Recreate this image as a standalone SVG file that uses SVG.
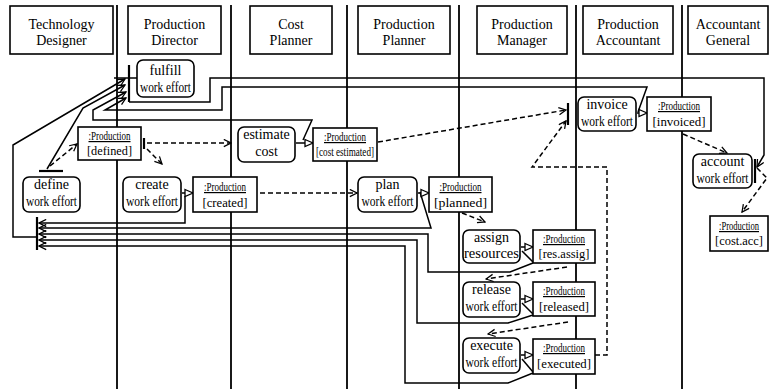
<svg xmlns="http://www.w3.org/2000/svg" width="771" height="389" viewBox="0 0 771 389" font-family="'Liberation Serif', 'Times New Roman', serif">
  <style>
    text { font-family: 'Liberation Serif', 'Times New Roman', serif; fill: #000; }
    .hdr { font-size: 14px; text-anchor: middle; }
    .act { font-size: 14px; text-anchor: middle; }
    .obj { font-size: 13px; text-anchor: middle; }
    .cls { font-size: 12px; text-anchor: middle; text-decoration: underline; }
    .box { fill: #fff; stroke: #000; stroke-width: 1.6; }
    .lane { stroke: #000; stroke-width: 1.8; fill: none; }
    .flow { stroke: #000; stroke-width: 1.5; fill: none; }
    .dash { stroke: #000; stroke-width: 1.5; fill: none; stroke-dasharray: 5 3; }
    .bar { stroke: #000; stroke-width: 2.2; fill: none; }
  </style>
  <defs>
    <marker id="open" viewBox="0 0 10 10" refX="9" refY="5" markerWidth="9" markerHeight="9" markerUnits="userSpaceOnUse" orient="auto">
      <path d="M1,1 L9,5 L1,9" fill="none" stroke="#000" stroke-width="1.4"/>
    </marker>
    <marker id="tri" viewBox="0 0 10 10" refX="9" refY="5" markerWidth="10" markerHeight="10" markerUnits="userSpaceOnUse" orient="auto">
      <path d="M1,1.5 L9,5 L1,8.5 Z" fill="#fff" stroke="#000" stroke-width="1.3"/>
    </marker>
  </defs>

  <rect width="771" height="389" fill="#fff"/>

  <!-- swimlane separators -->
  <g id="lanes">
    <line class="lane" x1="117" y1="5" x2="117" y2="389"/>
    <line class="lane" x1="231" y1="5" x2="231" y2="389"/>
    <line class="lane" x1="347" y1="5" x2="347" y2="389"/>
    <line class="lane" x1="459" y1="5" x2="459" y2="389"/>
    <line class="lane" x1="576" y1="5" x2="576" y2="389"/>
    <line class="lane" x1="682" y1="5" x2="682" y2="389"/>
  </g>

  <!-- lane headers -->
  <g id="headers">
    <g id="hdr-technology-designer">
      <rect class="box" x="10" y="6" width="103" height="48"/>
      <text class="hdr" x="61.5" y="29">Technology</text>
      <text class="hdr" x="61.5" y="45">Designer</text>
    </g>
    <g id="hdr-production-director">
      <rect class="box" x="128" y="6" width="93" height="48"/>
      <text class="hdr" x="174.5" y="29">Production</text>
      <text class="hdr" x="174.5" y="45">Director</text>
    </g>
    <g id="hdr-cost-planner">
      <rect class="box" x="250" y="6" width="82" height="48"/>
      <text class="hdr" x="291" y="29">Cost</text>
      <text class="hdr" x="291" y="45">Planner</text>
    </g>
    <g id="hdr-production-planner">
      <rect class="box" x="358" y="6" width="92" height="48"/>
      <text class="hdr" x="404" y="29">Production</text>
      <text class="hdr" x="404" y="45">Planner</text>
    </g>
    <g id="hdr-production-manager">
      <rect class="box" x="477" y="6" width="90" height="48"/>
      <text class="hdr" x="522" y="29">Production</text>
      <text class="hdr" x="522" y="45">Manager</text>
    </g>
    <g id="hdr-production-accountant">
      <rect class="box" x="583" y="6" width="90" height="48"/>
      <text class="hdr" x="628" y="29">Production</text>
      <text class="hdr" x="628" y="45">Accountant</text>
    </g>
    <g id="hdr-accountant-general">
      <rect class="box" x="688" y="6" width="80" height="48"/>
      <text class="hdr" x="728" y="29">Accountant</text>
      <text class="hdr" x="728" y="45">General</text>
    </g>
  </g>

  <!-- connectors -->
  <g id="connectors">
    <!-- synchronisation bars -->
    <line class="bar" x1="129" y1="65" x2="129" y2="102"/>
    <line class="flow" x1="114" y1="78" x2="137" y2="78"/>
    <line class="bar" x1="37" y1="217" x2="37" y2="250"/>
    <line class="bar" x1="39" y1="171" x2="63" y2="171"/>
    <line class="bar" x1="144" y1="138" x2="144" y2="149"/>
    <line class="bar" x1="568" y1="103" x2="568" y2="125"/>
    <line class="bar" x1="755" y1="159" x2="755" y2="183"/>

    <!-- returns into the fulfill bar -->
    <path class="flow" d="M37,237 L13,237 L13,145 L125,79" marker-end="url(#open)"/>
    <path class="flow" d="M47,169 L83,108 L125,85" marker-end="url(#open)"/>
    <path class="flow" d="M303,140 L312,120 L93,120 L93,110 L126,92" marker-end="url(#open)"/>
    <path class="flow" d="M638,112 L647,87 L222,87 L222,110 L105,110 L126,98" marker-end="url(#open)"/>
    <path class="flow" d="M129,102 L210,102 L210,78 L764,78 L764,155 L757,167" marker-end="url(#open)"/>

    <!-- returns into the left join bar -->
    <path class="flow" d="M185,196 L185,223 L39,223" marker-end="url(#open)"/>
    <path class="flow" d="M420,192 L431,228 L39,228" marker-end="url(#open)"/>
    <path class="flow" d="M533,263 L510,272 L428,272 L428,234 L39,234" marker-end="url(#open)"/>
    <path class="flow" d="M533,315 L508,323 L417,323 L417,240 L39,240" marker-end="url(#open)"/>
    <path class="flow" d="M533,373 L508,383 L405,383 L405,246 L39,246" marker-end="url(#open)"/>

    <!-- action to object flows -->
    <path class="flow" d="M182,193 L193,193" marker-end="url(#tri)"/>
    <path class="flow" d="M296,143 L313,143" marker-end="url(#tri)"/>
    <path class="flow" d="M418,193 L429,193" marker-end="url(#tri)"/>
    <path class="flow" d="M521,247 L533,247" marker-end="url(#tri)"/>
    <path class="flow" d="M521,299 L533,299" marker-end="url(#tri)"/>
    <path class="flow" d="M521,355 L533,355" marker-end="url(#tri)"/>
    <path class="flow" d="M637,113 L647,113" marker-end="url(#tri)"/>
    <line class="flow" x1="522" y1="251" x2="533" y2="262"/>
    <line class="flow" x1="522" y1="303" x2="533" y2="314"/>
    <line class="flow" x1="522" y1="359" x2="533" y2="372"/>
    <path class="flow" d="M729,182 L741,178" marker-end="url(#open)"/>

    <!-- dashed control flows -->
    <path class="dash" d="M50,166 L77,144" marker-end="url(#open)"/>
    <path class="dash" d="M147,143 L231,143" marker-end="url(#open)"/>
    <path class="dash" d="M147,149 L162,164" marker-end="url(#open)"/>
    <path class="dash" d="M260,193 L357,193" marker-end="url(#open)"/>
    <path class="dash" d="M378,142 L566,110" marker-end="url(#open)"/>
    <path class="dash" d="M595,355 L607,355 L607,167 L532,167 L566,121" marker-end="url(#open)"/>
    <path class="dash" d="M462,213 L485,222" marker-end="url(#open)"/>
    <path class="dash" d="M567,267 L486,279" marker-end="url(#open)"/>
    <path class="dash" d="M568,322 L488,334" marker-end="url(#open)"/>
    <path class="dash" d="M683,134 L727,153" marker-end="url(#open)"/>
    <path class="dash" d="M757,168 L767,178 L742,212" marker-end="url(#open)"/>
  </g>

  <!-- actions -->
  <g id="fulfill-work-effort">
    <rect class="box" x="137" y="60" width="57" height="37" rx="6"/>
    <text class="act" x="165.5" y="75">fulfill</text>
    <text class="act" x="165.5" y="92" textLength="51" lengthAdjust="spacingAndGlyphs">work effort</text>
  </g>
  <g id="define-work-effort">
    <rect class="box" x="23" y="177" width="57" height="35" rx="6"/>
    <text class="act" x="51.5" y="189">define</text>
    <text class="act" x="51.5" y="206" textLength="51" lengthAdjust="spacingAndGlyphs">work effort</text>
  </g>
  <g id="create-work-effort">
    <rect class="box" x="123" y="177" width="58" height="35" rx="6"/>
    <text class="act" x="152" y="189">create</text>
    <text class="act" x="152" y="206" textLength="52" lengthAdjust="spacingAndGlyphs">work effort</text>
  </g>
  <g id="estimate-cost">
    <rect class="box" x="238" y="127" width="57" height="35" rx="6"/>
    <text class="act" x="266.5" y="139">estimate</text>
    <text class="act" x="266.5" y="156">cost</text>
  </g>
  <g id="plan-work-effort">
    <rect class="box" x="358" y="177" width="59" height="35" rx="6"/>
    <text class="act" x="387.5" y="189">plan</text>
    <text class="act" x="387.5" y="206" textLength="52" lengthAdjust="spacingAndGlyphs">work effort</text>
  </g>
  <g id="assign-resources">
    <rect class="box" x="463" y="230" width="57" height="33" rx="6"/>
    <text class="act" x="491.5" y="242">assign</text>
    <text class="act" x="491.5" y="258" textLength="55" lengthAdjust="spacingAndGlyphs">resources</text>
  </g>
  <g id="release-work-effort">
    <rect class="box" x="463" y="282" width="57" height="35" rx="6"/>
    <text class="act" x="491.5" y="294">release</text>
    <text class="act" x="491.5" y="311" textLength="52" lengthAdjust="spacingAndGlyphs">work effort</text>
  </g>
  <g id="execute-work-effort">
    <rect class="box" x="463" y="338" width="57" height="35" rx="6"/>
    <text class="act" x="491.5" y="350">execute</text>
    <text class="act" x="491.5" y="367" textLength="52" lengthAdjust="spacingAndGlyphs">work effort</text>
  </g>
  <g id="invoice-work-effort">
    <rect class="box" x="578" y="97" width="58" height="34" rx="6"/>
    <text class="act" x="607" y="109">invoice</text>
    <text class="act" x="607" y="126" textLength="52" lengthAdjust="spacingAndGlyphs">work effort</text>
  </g>
  <g id="account-work-effort">
    <rect class="box" x="693" y="154" width="59" height="34" rx="6"/>
    <text class="act" x="722.5" y="166">account</text>
    <text class="act" x="722.5" y="183" textLength="52" lengthAdjust="spacingAndGlyphs">work effort</text>
  </g>

  <!-- object states -->
  <g id="production-defined">
    <rect class="box" x="78" y="127" width="63" height="33"/>
    <text class="cls" x="109.5" y="140" textLength="42" lengthAdjust="spacingAndGlyphs">:Production</text>
    <text class="obj" x="109.5" y="155" textLength="45" lengthAdjust="spacingAndGlyphs">[defined]</text>
  </g>
  <g id="production-cost-estimated">
    <rect class="box" x="313" y="128" width="64" height="33"/>
    <text class="cls" x="345" y="141" textLength="42" lengthAdjust="spacingAndGlyphs">:Production</text>
    <text class="obj" x="345" y="156" textLength="58" lengthAdjust="spacingAndGlyphs">[cost estimated]</text>
  </g>
  <g id="production-created">
    <rect class="box" x="193" y="177" width="64" height="35"/>
    <text class="cls" x="225" y="191" textLength="42" lengthAdjust="spacingAndGlyphs">:Production</text>
    <text class="obj" x="225" y="207" textLength="45" lengthAdjust="spacingAndGlyphs">[created]</text>
  </g>
  <g id="production-planned">
    <rect class="box" x="429" y="177" width="63" height="35"/>
    <text class="cls" x="460.5" y="191" textLength="42" lengthAdjust="spacingAndGlyphs">:Production</text>
    <text class="obj" x="460.5" y="207" textLength="53" lengthAdjust="spacingAndGlyphs">[planned]</text>
  </g>
  <g id="production-res-assig">
    <rect class="box" x="533" y="230" width="62" height="33"/>
    <text class="cls" x="564" y="243" textLength="42" lengthAdjust="spacingAndGlyphs">:Production</text>
    <text class="obj" x="564" y="258" textLength="51" lengthAdjust="spacingAndGlyphs">[res.assig]</text>
  </g>
  <g id="production-released">
    <rect class="box" x="533" y="282" width="62" height="34"/>
    <text class="cls" x="564" y="295" textLength="42" lengthAdjust="spacingAndGlyphs">:Production</text>
    <text class="obj" x="564" y="311" textLength="50" lengthAdjust="spacingAndGlyphs">[released]</text>
  </g>
  <g id="production-executed">
    <rect class="box" x="533" y="339" width="62" height="35"/>
    <text class="cls" x="564" y="352" textLength="42" lengthAdjust="spacingAndGlyphs">:Production</text>
    <text class="obj" x="564" y="368" textLength="54" lengthAdjust="spacingAndGlyphs">[executed]</text>
  </g>
  <g id="production-invoiced">
    <rect class="box" x="647" y="97" width="64" height="34"/>
    <text class="cls" x="679" y="110" textLength="42" lengthAdjust="spacingAndGlyphs">:Production</text>
    <text class="obj" x="679" y="126" textLength="53" lengthAdjust="spacingAndGlyphs">[invoiced]</text>
  </g>
  <g id="production-cost-acc">
    <rect class="box" x="710" y="216" width="58" height="35"/>
    <text class="cls" x="739" y="230" textLength="40" lengthAdjust="spacingAndGlyphs">:Production</text>
    <text class="obj" x="739" y="245" textLength="48" lengthAdjust="spacingAndGlyphs">[cost.acc]</text>
  </g>
</svg>
